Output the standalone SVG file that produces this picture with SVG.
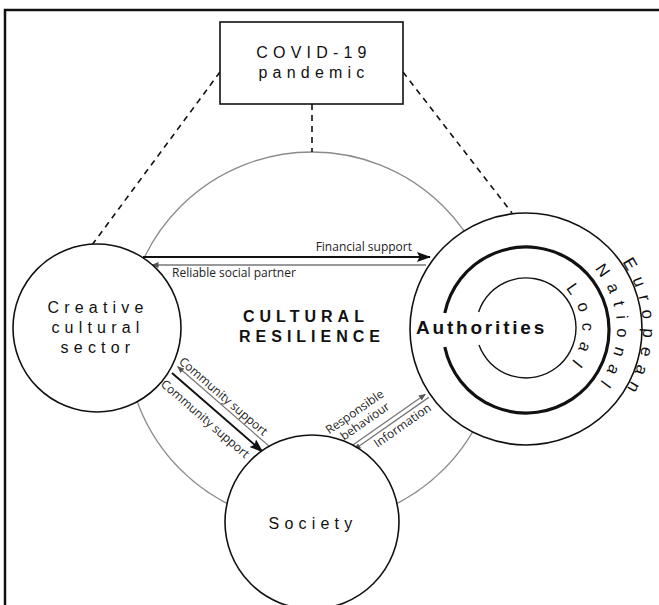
<svg xmlns="http://www.w3.org/2000/svg" width="659" height="605" viewBox="0 0 659 605">
<defs>
<style>
.frame{fill:none;stroke:#111;stroke-width:2.5}
.node{fill:#fff;stroke:#111;stroke-width:1.6}
.gray{fill:none;stroke:#8a8a8a;stroke-width:1.3}
.dash{fill:none;stroke:#111;stroke-width:1.6;stroke-dasharray:6 5}
.blk{stroke:#111;stroke-width:2;fill:none}
.gln{stroke:#777;stroke-width:1.3;fill:none}
.t{font-family:"Liberation Sans",Arial,sans-serif;font-size:16px;fill:#111;letter-spacing:5.2px}
.tb{font-family:"Liberation Sans",Arial,sans-serif;font-weight:bold;fill:#111}
.lab{font-family:"Open Sans","DejaVu Sans",sans-serif;font-size:12px;fill:#222}
.ring{font-family:"Liberation Sans",Arial,sans-serif;fill:#111}
</style>
<marker id="ahB" markerUnits="userSpaceOnUse" viewBox="0 0 14 10" markerWidth="14" markerHeight="10" refX="13" refY="5" orient="auto">
<path d="M0,0 L14,5 L0,10 L2.5,5 z" fill="#111"/>
</marker>
<marker id="ahG" markerUnits="userSpaceOnUse" viewBox="0 0 7 6" markerWidth="7" markerHeight="6" refX="6.5" refY="3" orient="auto-start-reverse">
<path d="M0,0 L7,3 L0,6 z" fill="#555"/>
</marker>
<path id="arcEu" d="M 526 212 A 117 117 0 0 1 526 446"/>
<path id="arcNa" d="M 526 238 A 91 91 0 0 1 526 420"/>
<path id="arcLo" d="M 526 273 A 56 56 0 0 1 526 385"/>
</defs>
<rect x="0" y="0" width="659" height="605" fill="#fff"/>
<rect class="frame" x="5" y="10" width="700" height="700"/>

<g id="resilience">
<circle class="gray" cx="312" cy="338" r="186"/>
<text class="tb" x="243" y="322" font-size="16" letter-spacing="5">CULTURAL</text>
<text class="tb" x="239" y="342" font-size="16" letter-spacing="5">RESILIENCE</text>
</g>

<g id="connectors">
<line class="dash" x1="220" y1="72" x2="92" y2="245"/>
<line class="dash" x1="403" y1="72" x2="512" y2="213"/>
<line class="dash" x1="312" y1="104" x2="312" y2="152"/>
<line class="blk" x1="143" y1="257" x2="430" y2="257" marker-end="url(#ahB)"/>
<line class="gln" x1="426" y1="265" x2="152" y2="265" marker-end="url(#ahG)"/>
<text class="lab" x="412" y="251" text-anchor="end">Financial support</text>
<text class="lab" x="172" y="277">Reliable social partner</text>
<g transform="translate(172,373) rotate(41)">
<line class="blk" x1="0" y1="0" x2="120" y2="0" marker-end="url(#ahB)"/>
<line class="gln" x1="0" y1="-8.5" x2="122" y2="-8.5" marker-start="url(#ahG)"/>
<text class="lab" x="-2" y="-12">Community support</text>
<text class="lab" x="-1" y="17">Community support</text>
</g>
<g transform="translate(350,447) rotate(-35)">
<line class="gln" x1="0" y1="0" x2="92" y2="0" marker-end="url(#ahG)"/>
<line class="gln" x1="2" y1="4.5" x2="93" y2="4.5" marker-start="url(#ahG)"/>
<text class="lab" x="24" y="-22" text-anchor="middle">Responsible</text>
<text class="lab" x="27" y="-8.5" text-anchor="middle">behaviour</text>
<text class="lab" x="22" y="16.5">Information</text>
</g>
</g>

<g id="covid">
<rect class="node" x="220" y="22" width="183" height="82"/>
<text class="t" x="314" y="58" text-anchor="middle" letter-spacing="5.3">COVID-19</text>
<text class="t" x="314" y="78" text-anchor="middle" letter-spacing="5.3">pandemic</text>
</g>

<g id="creative">
<circle class="node" cx="97" cy="328" r="84"/>
<text class="t" x="98" y="313" text-anchor="middle">Creative</text>
<text class="t" x="98" y="333" text-anchor="middle">cultural</text>
<text class="t" x="98" y="353" text-anchor="middle">sector</text>
</g>

<g id="society">
<circle class="node" cx="312" cy="522" r="87"/>
<text class="t" x="313" y="529" text-anchor="middle">Society</text>
</g>

<g id="authorities">
<circle class="node" cx="526" cy="329" r="116"/>
<path d="M 444.8 313 A 83 83 0 1 1 444.8 347" fill="none" stroke="#111" stroke-width="3.2"/>
<path d="M 478.6 312 A 50 50 0 1 1 479 345" fill="none" stroke="#111" stroke-width="1.4"/>
<text class="tb" x="416" y="334" font-size="19" letter-spacing="2.8">Authorities</text>
<text class="ring" font-size="17" letter-spacing="8.6"><textPath href="#arcEu" startOffset="50%" text-anchor="middle">European</textPath></text>
<text class="ring" font-size="16.5" letter-spacing="8.8"><textPath href="#arcNa" startOffset="50%" text-anchor="middle">National</textPath></text>
<text class="ring" font-size="16.5" letter-spacing="10"><textPath href="#arcLo" startOffset="50%" text-anchor="middle">Local</textPath></text>
</g>
</svg>
